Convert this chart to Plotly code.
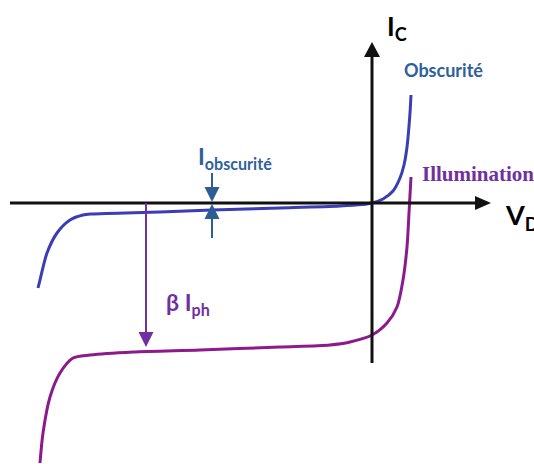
import plotly.graph_objects as go

# Photodiode I-V characteristics (arbitrary units: V_D horizontal, I_C vertical)
dark_v = [-3.34, -3.32, -3.25, -3.15, -3.02, -2.89, -2.80, -2.12, -1.60, -0.92, -0.32, -0.10, 0.0, 0.11, 0.21, 0.28, 0.32, 0.35, 0.38, 0.39]
dark_i = [-0.85, -0.77, -0.50, -0.30, -0.17, -0.12, -0.11, -0.09, -0.07, -0.05, -0.03, -0.015, 0.0, 0.04, 0.12, 0.25, 0.38, 0.56, 0.90, 1.08]

light_v = [-3.32, -3.29, -3.22, -3.12, -2.99, -2.82, -2.39, -1.72, -0.92, -0.42, -0.22, 0.0, 0.15, 0.25, 0.31, 0.35, 0.37, 0.39]
light_i = [-2.60, -2.30, -1.94, -1.70, -1.55, -1.52, -1.49, -1.47, -1.44, -1.42, -1.39, -1.32, -1.20, -1.04, -0.77, -0.44, -0.10, 0.26]

# Axis extents
X_RANGE = [-3.72, 1.62]
Y_RANGE = [-2.61, 2.03]
V_AXIS_START, V_AXIS_TIP = -3.62, 1.19
I_AXIS_START, I_AXIS_TIP = -1.60, 1.61

# Annotation markers
DARK_MARK_V = -1.60      # dark-current indicator position
DARK_MARK_SPAN = (0.30, -0.35)
PH_MARK_V = -2.26        # photocurrent indicator position
PH_MARK_TIP = -1.44

PX = 100.0  # pixels per unit

BLACK = "#111111"
BLUE_CURVE = "#3a3db3"
BLUE_TEXT = "#2f5f9c"
BLUE_ARROW = "#2e5d95"
PURPLE_CURVE = "#8c1a8c"
PURPLE_TEXT = "#7030a0"


def head(tip_x, tip_y, direction, length_px, width_px, color):
    """Filled triangular arrow head as a path shape, tip at (tip_x, tip_y)."""
    L = length_px / PX
    W = width_px / PX / 2
    dx, dy = {"up": (0, -1), "down": (0, 1), "right": (-1, 0), "left": (1, 0)}[direction]
    bx, by = tip_x + dx * L, tip_y + dy * L
    px_, py_ = -dy, dx
    p1 = (bx + px_ * W, by + py_ * W)
    p2 = (bx - px_ * W, by - py_ * W)
    path = f"M {tip_x},{tip_y} L {p1[0]},{p1[1]} L {p2[0]},{p2[1]} Z"
    return dict(type="path", path=path, xref="x", yref="y",
                fillcolor=color, line=dict(color=color, width=0), layer="above")


def seg(x0, y0, x1, y1, color, width):
    return dict(type="line", x0=x0, y0=y0, x1=x1, y1=y1, xref="x", yref="y",
                line=dict(color=color, width=width), layer="above")


fig = go.Figure()
fig.add_trace(go.Scatter(x=dark_v, y=dark_i, mode="lines",
                         line=dict(color=BLUE_CURVE, width=3, shape="spline", smoothing=0.8),
                         hoverinfo="skip", showlegend=False))
fig.add_trace(go.Scatter(x=light_v, y=light_i, mode="lines",
                         line=dict(color=PURPLE_CURVE, width=3, shape="spline", smoothing=0.8),
                         hoverinfo="skip", showlegend=False))

shapes = [
    # axes
    seg(V_AXIS_START, 0, V_AXIS_TIP - 0.10, 0, BLACK, 3),
    head(V_AXIS_TIP, 0, "right", 16, 14, BLACK),
    seg(0, I_AXIS_START, 0, I_AXIS_TIP - 0.10, BLACK, 3),
    head(0, I_AXIS_TIP, "up", 15, 16, BLACK),
    # dark current double arrow
    seg(DARK_MARK_V, DARK_MARK_SPAN[0], DARK_MARK_V, 0.10, BLUE_ARROW, 2),
    head(DARK_MARK_V, 0.01, "down", 15, 15, BLUE_ARROW),
    seg(DARK_MARK_V, DARK_MARK_SPAN[1], DARK_MARK_V, -0.10, BLUE_ARROW, 2),
    head(DARK_MARK_V, -0.01, "up", 15, 15, BLUE_ARROW),
    # photocurrent arrow
    seg(PH_MARK_V, 0, PH_MARK_V, PH_MARK_TIP + 0.10, PURPLE_TEXT, 2),
    head(PH_MARK_V, PH_MARK_TIP, "down", 15, 15, PURPLE_TEXT),
]

sans = "Lato"
annotations = [
    dict(x=0.13, y=1.76, text="<b>I<sub>C</sub></b>", font=dict(family=sans, size=26, color="#000000")),
    dict(x=0.30, y=1.33, text="<b>Obscurité</b>", font=dict(family=sans, size=18, color=BLUE_TEXT)),
    dict(x=0.48, y=0.29, text="<b>Illumination</b>", font=dict(family="Liberation Serif", size=21, color=PURPLE_TEXT)),
    dict(x=1.31, y=-0.13, text="<b>V<sub>D</sub></b>", font=dict(family=sans, size=27, color="#000000")),
    dict(x=-1.76, y=0.46, text="<b>I<sub>obscurité</sub></b>", font=dict(family=sans, size=23, color=BLUE_TEXT)),
    dict(x=-2.08, y=-1.00, text="<b>β I<sub>ph</sub></b>", font=dict(family=sans, size=23, color=PURPLE_TEXT)),
]
for a in annotations:
    a.update(xref="x", yref="y", xanchor="left", yanchor="middle", showarrow=False)

fig.update_layout(
    width=534, height=464,
    margin=dict(l=0, r=0, t=0, b=0),
    paper_bgcolor="white", plot_bgcolor="white",
    xaxis=dict(range=X_RANGE, visible=False, fixedrange=True),
    yaxis=dict(range=Y_RANGE, visible=False, fixedrange=True),
    shapes=shapes, annotations=annotations,
    showlegend=False,
)

fig.write_html("out.html")
